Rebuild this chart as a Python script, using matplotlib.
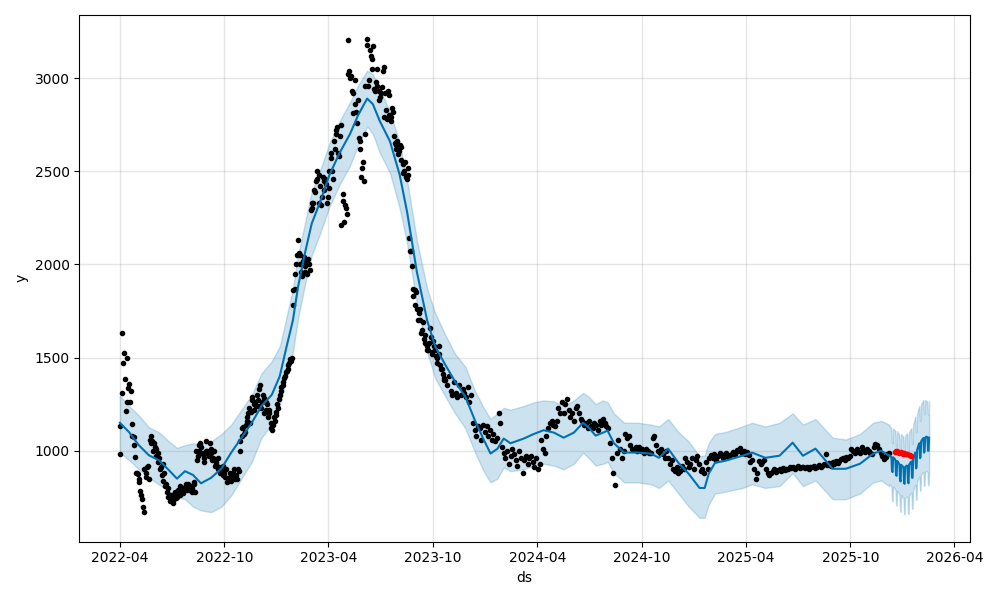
import matplotlib
matplotlib.use("Agg")
import matplotlib.pyplot as plt
import matplotlib.dates as mdates
import pandas as pd

# observed values (every 3 days from 2022-04-01)
obs_y = [
    985, 1630, 1470, 1385, 1500, 1335, 1260, 1145, 1075, 965,
    880, 830, 785, 740, 670, 880, 910, 850, 1080, 1050,
    1040, 1010, 990, 960, 910, 930, 880, 820, 800, 760,
    750, 720, 765, 745, 790, 760, 800, 775, 805, 815,
    820, 790, 800, 830, 780, 950, 1000, 1040, 990, 960,
    1050, 1000, 970, 1010, 950, 1000, 930, 960, 910, 900,
    920, 880, 900, 850, 860, 840, 880, 850, 870, 900,
    1000, 1080, 1125, 1100, 1160, 1200, 1150, 1270, 1220, 1260,
    1300, 1240, 1350, 1260, 1285, 1220, 1250, 1200, 1150, 1110,
    1180, 1210, 1250, 1280, 1320, 1350, 1390, 1420, 1440, 1470,
    1480, 1780, 1870, 2000, 2130, 2050, 1960, 2020, 1990, 1950,
    2030, 1970, 2300, 2330, 2390, 2460, 2480, 2420, 2360, 2450,
    2460, 2330, 2410, 2600, 2500, 2660, 2700, 2740, 2580, 2750,
    2380, 2230, 2300, 3205, 3040, 3010, 2920, 2990, 2820, 2880,
    2660, 2470, 2550, 2700, 3210, 2960, 3150, 3100, 3170, 2930,
    3050, 2930, 2900, 2950, 3060, 2920, 2780, 2910, 2790, 2840,
    2690, 2640, 2660, 2610, 2630, 2540, 2500, 2470, 2520, 2140,
    2070, 1870, 1780, 1850, 1700, 1760, 1630, 1690, 1620, 1560,
    1540, 1660, 1520, 1590, 1540, 1500, 1560, 1460, 1440, 1390,
    1380, 1350, 1400, 1320, 1300, 1370, 1310, 1290, 1350, 1300,
    1330, 1310, 1290, 1340, 1260, 1300, 1150, 1110, 1080, 1130,
    1120, 1060, 1140, 1100, 1130, 1080, 1110, 1060, 1090, 1050,
    1070, 1200, 1150, 1020, 990, 960, 1000, 930, 970, 1010,
    980, 950, 920, 1000, 960, 880, 950, 970, 930, 960,
    970, 940, 910, 960, 900, 930, 1060, 1010, 990, 1080,
    1120, 1150, 1160, 1140, 1130, 1160, 1230, 1200, 1260, 1200,
    1250, 1280, 1220, 1180, 1200, 1160, 1230, 1240, 1200, 1170,
    1160, 1140, 1150, 1120, 1160, 1130, 1120, 1150, 1140, 1110,
    1160, 1140, 1170, 1150, 1130, 1120, 1040, 960, 880, 815,
    990, 1060, 1010, 960, 1000, 1090, 1070, 1080, 1030, 1010,
    1010, 1020, 1000, 1020, 1000, 1010, 990, 1010, 1000, 990,
    990, 1070, 1080, 1030, 1000, 990, 1010, 980, 960, 1000,
    960, 930, 950, 900, 890, 910, 880, 890, 920, 900,
    960, 940, 910, 930, 960, 900, 950, 970, 930, 890,
    900, 880, 940, 900, 960, 975, 960, 985, 950, 970,
    990, 975, 960, 980, 990, 965, 975, 985, 995, 980,
    1005, 1000, 1015, 990, 1000, 985, 995, 975, 940, 950,
    900, 850, 880, 945, 930, 940, 950, 900, 880, 870,
    880, 890, 900, 885, 895, 900, 890, 905, 895, 900,
    900, 910, 905, 915, 900, 910, 920, 905, 910, 915,
    905, 910, 900, 915, 910, 920, 905, 915, 925, 910,
    920, 930, 985, 925, 935, 920, 940, 930, 945, 935,
    945, 955, 960, 950, 965, 960, 970, 1010, 1000, 990,
    1010, 1000, 990, 1020, 1000, 995, 1010, 1000, 990, 985,
    1020, 1035, 1030, 1010, 990, 970, 955, 965, 985, 990,
]

# extra observations in the noisy first part (every 3 days from 2022-04-02)
obs2_y = [
    1135, 1310, 1525, 1215, 1260, 1360, 1320, 1080, 1030, 880,
    875, 850, 760, 700, 900, 860, 920, 1060, 1040, 1000,
    1020, 970, 940, 900, 870, 840, 810, 780, 750, 730,
    760, 740, 780, 750, 770, 810, 790, 800, 820, 790,
    800, 810, 780, 820, 1000, 970, 1030, 1020, 980, 940,
    1000, 980, 1040, 990, 960, 920, 940, 900, 880, 890,
    870, 860, 830, 840, 880, 860, 900, 870, 850, 890,
    1050, 1120, 1090, 1140, 1180, 1230, 1210, 1290, 1250, 1240,
    1270, 1330, 1230, 1300, 1200, 1260, 1180, 1220, 1120, 1140,
    1160, 1190, 1230, 1300, 1340, 1370, 1400, 1430, 1460, 1490,
    1500, 1860, 1950, 2050, 2060, 2000, 1940, 2040, 1960, 2010,
    2000, 2290, 2330, 2400, 2450, 2500, 2330, 2320, 2470, 2400,
    2430, 2360, 2500, 2570, 2460, 2620, 2720, 2600, 2690, 2210,
    2340, 2320, 2270, 3020, 3000, 2930, 2810, 2860, 2760, 2680,
    2620, 2520, 2450, 2960, 3180, 2990, 3120, 3050, 2940, 2980,
    2960, 2880, 2920, 3040, 2790, 2830, 2930, 2800, 2770, 2820,
    2650, 2620, 2590, 2640, 2560, 2490, 2550, 2460, 2480, 2070,
    1990, 1830, 1860, 1760, 1740, 1700, 1650, 1600, 1580, 1540,
    1580, 1610, 1530, 1560, 1510, 1470, 1520, 1440, 1410, 1380,
]

# held-out values (every 2 days)
test_y = [995, 1000, 998, 992, 990, 995, 988, 985, 990, 982, 980, 985, 978, 975, 972]

# fitted values on history
hist_ds = [
    "2022-04-01", "2022-04-17", "2022-05-04", "2022-05-22", "2022-06-08", "2022-06-26",
    "2022-07-10", "2022-07-24", "2022-08-07", "2022-08-21", "2022-09-08", "2022-09-26",
    "2022-10-13", "2022-10-31", "2022-11-18", "2022-12-05", "2022-12-23", "2023-01-06",
    "2023-01-18", "2023-01-29", "2023-02-07", "2023-02-19", "2023-03-03", "2023-03-17",
    "2023-04-03", "2023-04-21", "2023-05-09", "2023-05-23", "2023-06-08", "2023-06-18",
    "2023-06-30", "2023-07-18", "2023-08-04", "2023-08-17", "2023-09-03", "2023-09-21",
    "2023-10-05", "2023-10-23", "2023-11-09", "2023-11-27", "2023-12-14", "2023-12-29",
    "2024-01-10", "2024-01-22", "2024-02-02", "2024-02-14", "2024-03-08", "2024-03-26",
    "2024-04-12", "2024-04-30", "2024-05-17", "2024-06-04", "2024-06-20", "2024-06-30",
    "2024-07-12", "2024-07-25", "2024-08-02", "2024-08-13", "2024-08-31", "2024-09-24",
    "2024-10-17", "2024-10-31", "2024-11-16", "2024-12-04", "2024-12-22", "2025-01-10",
    "2025-01-19", "2025-01-26", "2025-02-06", "2025-02-24", "2025-03-26", "2025-04-12",
    "2025-05-05", "2025-05-30", "2025-06-22", "2025-07-10", "2025-08-01", "2025-08-19",
    "2025-08-31", "2025-09-23", "2025-10-18", "2025-11-10", "2025-11-24", "2025-12-08",
]
hist_yhat = [
    1150, 1100, 1030, 975, 950, 895, 850, 890, 870, 825, 855, 905,
    990, 1070, 1150, 1240, 1300, 1400, 1560, 1700, 1880, 2060, 2220, 2330,
    2480, 2600, 2700, 2800, 2890, 2860, 2770, 2660, 2480, 2280, 1960, 1700,
    1560, 1460, 1370, 1290, 1160, 1060, 985, 1010, 1065, 1040, 1065, 1090,
    1110, 1097, 1070, 1097, 1150, 1124, 1081, 1097, 1108, 1040, 990, 990,
    984, 962, 1011, 935, 876, 800, 800, 876, 935, 946, 973, 990,
    962, 973, 1043, 973, 1011, 946, 903, 903, 930, 984, 1000, 973,
]
hist_upper = [
    1296, 1240, 1190, 1125, 1100, 1050, 1015, 1030, 1040, 1035, 1050, 1090,
    1140, 1220, 1300, 1415, 1480, 1560, 1720, 1870, 2050, 2220, 2390, 2500,
    2650, 2770, 2870, 2960, 3040, 3020, 2940, 2820, 2650, 2450, 2130, 1870,
    1740, 1620, 1520, 1450, 1320, 1230, 1170, 1200, 1230, 1220, 1240, 1260,
    1270, 1265, 1240, 1270, 1310, 1290, 1250, 1270, 1260, 1200, 1150, 1150,
    1140, 1130, 1170, 1100, 1050, 970, 975, 1040, 1090, 1100, 1130, 1150,
    1130, 1150, 1200, 1140, 1170, 1110, 1070, 1060, 1090, 1150, 1160, 1140,
]
hist_lower = [
    990, 950, 900, 855, 820, 780, 750, 740, 700, 680, 670, 700,
    760, 850, 940, 1070, 1140, 1240, 1400, 1530, 1710, 1890, 2050, 2160,
    2310, 2430, 2530, 2640, 2740, 2700, 2600, 2490, 2300, 2110, 1790, 1530,
    1390, 1290, 1200, 1120, 990, 890, 830, 850, 910, 890, 900, 920,
    930, 920, 900, 930, 990, 960, 920, 930, 940, 880, 830, 830,
    820, 800, 840, 770, 700, 640, 640, 710, 770, 780, 800, 820,
    800, 810, 880, 810, 840, 780, 740, 740, 770, 830, 840, 810,
]

# daily forecast from 2025-12-09
fut_yhat = [
    975, 972, 970, 962, 890, 885, 965,
    960, 958, 955, 948, 870, 865, 945,
    940, 936, 932, 925, 845, 835, 925,
    920, 918, 915, 910, 828, 822, 912,
    915, 918, 920, 918, 830, 825, 925,
    930, 935, 940, 942, 855, 855, 955,
    965, 975, 985, 990, 905, 910, 1005,
    1015, 1025, 1035, 1040, 960, 965, 1050,
    1055, 1060, 1065, 1068, 990, 995, 1070,
    1072, 1075, 1075, 1072, 1000, 1000, 1070,
]
fut_upper = [
    1130, 1125, 1128, 1115, 1045, 1040, 1120,
    1115, 1112, 1110, 1100, 1025, 1022, 1105,
    1100, 1092, 1090, 1085, 1005, 995, 1090,
    1085, 1080, 1078, 1075, 990, 985, 1080,
    1085, 1090, 1092, 1090, 1000, 995, 1100,
    1105, 1112, 1118, 1120, 1035, 1040, 1140,
    1150, 1162, 1175, 1182, 1100, 1105, 1200,
    1210, 1222, 1232, 1240, 1160, 1165, 1250,
    1255, 1262, 1268, 1272, 1195, 1200, 1272,
    1270, 1268, 1265, 1262, 1192, 1195, 1265,
]
fut_lower = [
    820, 815, 812, 805, 735, 728, 808,
    802, 800, 795, 790, 712, 705, 785,
    780, 775, 770, 762, 685, 672, 762,
    758, 752, 750, 745, 665, 658, 748,
    750, 752, 755, 750, 665, 660, 758,
    762, 768, 772, 775, 688, 690, 785,
    795, 805, 812, 818, 735, 740, 832,
    842, 850, 858, 862, 785, 790, 872,
    875, 880, 884, 885, 810, 815, 888,
    890, 892, 890, 888, 815, 818, 880,
]

obs_ds = pd.date_range("2022-04-01", periods=len(obs_y), freq="3D")
obs2_ds = pd.date_range("2022-04-02", periods=len(obs2_y), freq="3D")
test_ds = pd.date_range("2025-12-18", periods=len(test_y), freq="2D")
fut_ds = pd.date_range("2025-12-09", periods=len(fut_yhat), freq="D")

fc_ds = list(pd.to_datetime(hist_ds)) + list(fut_ds)
fc_yhat = hist_yhat + fut_yhat
fc_upper = hist_upper + fut_upper
fc_lower = hist_lower + fut_lower

fig = plt.figure(facecolor="w", figsize=(10, 6), dpi=100)
ax = fig.add_subplot(111)
ax.plot(obs_ds, obs_y, "k.")
ax.plot(obs2_ds, obs2_y, "k.")
ax.plot(fc_ds, fc_yhat, ls="-", c="#0072B2")
ax.fill_between(fc_ds, fc_lower, fc_upper, color="#0072B2", alpha=0.2)
ax.plot(test_ds, test_y, "r.")

ax.xaxis.set_major_locator(mdates.MonthLocator(bymonth=[4, 10]))
ax.xaxis.set_major_formatter(mdates.DateFormatter("%Y-%m"))
ax.grid(True, which="major", c="gray", ls="-", lw=1, alpha=0.2)
ax.set_xlabel("ds")
ax.set_ylabel("y")
fig.tight_layout()
fig.savefig("out.png")
